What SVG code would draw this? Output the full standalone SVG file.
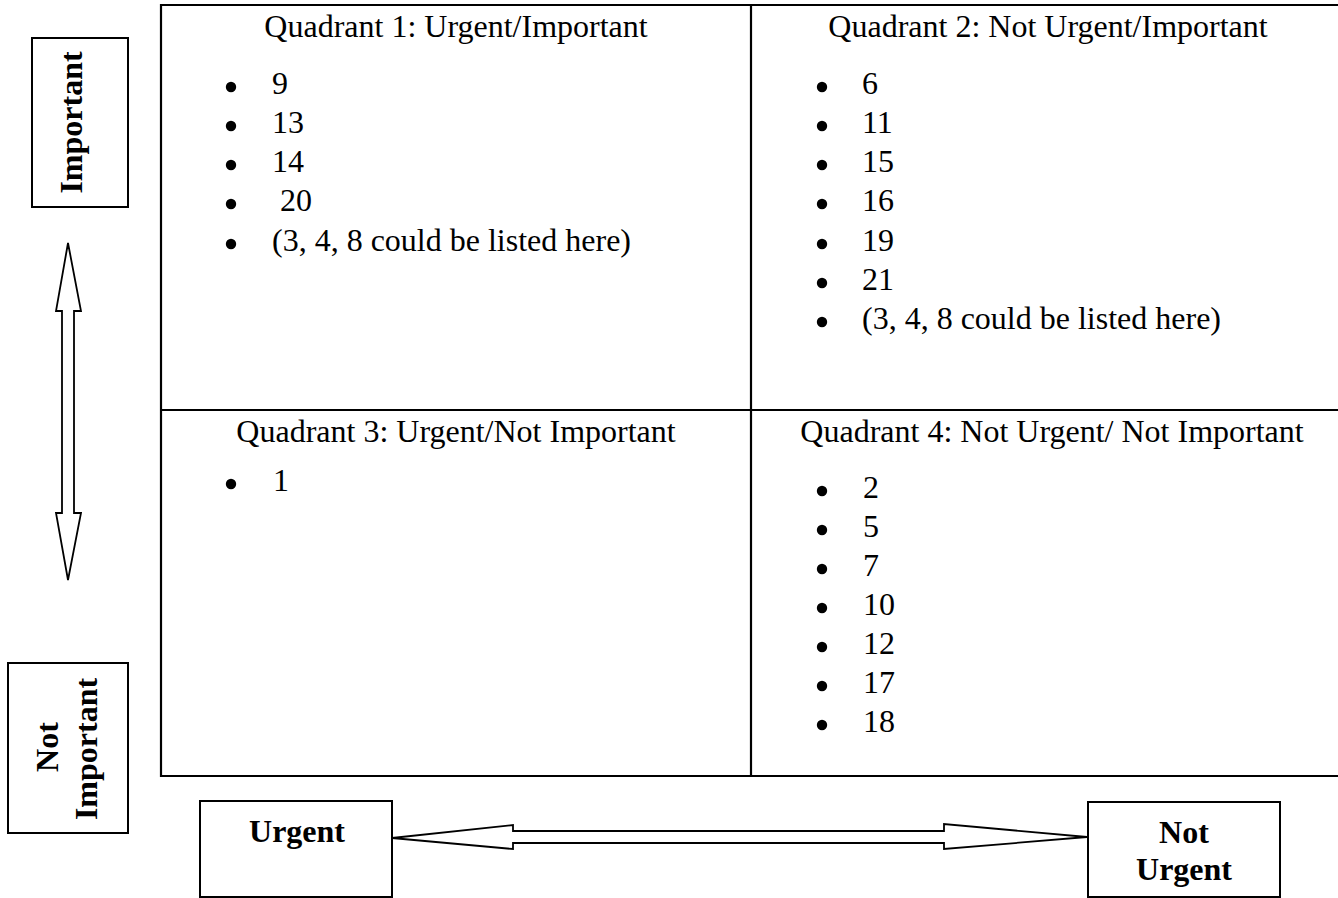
<svg xmlns="http://www.w3.org/2000/svg" width="1338" height="898" viewBox="0 0 1338 898">
<style>
text{font-family:"Liberation Serif","Times New Roman",serif;font-size:32px;fill:#000}
.b{font-weight:bold}
.c{text-anchor:middle}
.box{fill:#fff;stroke:#000;stroke-width:2}
.grid{stroke:#000;stroke-width:2.2;fill:none}
.arr{fill:#fff;stroke:#000;stroke-width:1.8;stroke-linejoin:miter}
.dot{fill:#000}
</style>
<rect width="1338" height="898" fill="#fff"/>
<g id="matrix">
<path class="grid" d="M161,5 H1340 M161,410 H1340 M161,776 H1340 M161,4 V777 M751,5 V777"/>
</g>
<g id="q1">
<text class="c" x="456" y="37">Quadrant 1: Urgent/Important</text>
<circle class="dot" cx="231" cy="87" r="5.2"/><text x="272" y="94">9</text>
<circle class="dot" cx="231" cy="126" r="5.2"/><text x="272" y="133">13</text>
<circle class="dot" cx="231" cy="165" r="5.2"/><text x="272" y="172">14</text>
<circle class="dot" cx="231" cy="204" r="5.2"/><text x="280" y="211">20</text>
<circle class="dot" cx="231" cy="244" r="5.2"/><text x="272" y="251">(3, 4, 8 could be listed here)</text>
</g>
<g id="q2">
<text class="c" x="1048" y="37">Quadrant 2: Not Urgent/Important</text>
<circle class="dot" cx="822" cy="87" r="5.2"/><text x="862" y="94">6</text>
<circle class="dot" cx="822" cy="126" r="5.2"/><text x="862" y="133">11</text>
<circle class="dot" cx="822" cy="165" r="5.2"/><text x="862" y="172">15</text>
<circle class="dot" cx="822" cy="204" r="5.2"/><text x="862" y="211">16</text>
<circle class="dot" cx="822" cy="244" r="5.2"/><text x="862" y="251">19</text>
<circle class="dot" cx="822" cy="283" r="5.2"/><text x="862" y="290">21</text>
<circle class="dot" cx="822" cy="322" r="5.2"/><text x="862" y="329">(3, 4, 8 could be listed here)</text>
</g>
<g id="q3">
<text class="c" x="456" y="442">Quadrant 3: Urgent/Not Important</text>
<circle class="dot" cx="231" cy="484" r="5.2"/><text x="273" y="491">1</text>
</g>
<g id="q4">
<text class="c" x="1052" y="442">Quadrant 4: Not Urgent/ Not Important</text>
<circle class="dot" cx="822" cy="491" r="5.2"/><text x="863" y="498">2</text>
<circle class="dot" cx="822" cy="530" r="5.2"/><text x="863" y="537">5</text>
<circle class="dot" cx="822" cy="569" r="5.2"/><text x="863" y="576">7</text>
<circle class="dot" cx="822" cy="608" r="5.2"/><text x="863" y="615">10</text>
<circle class="dot" cx="822" cy="647" r="5.2"/><text x="863" y="654">12</text>
<circle class="dot" cx="822" cy="686" r="5.2"/><text x="863" y="693">17</text>
<circle class="dot" cx="822" cy="725" r="5.2"/><text x="863" y="732">18</text>
</g>
<g id="important">
<rect class="box" x="32" y="38" width="96" height="169"/>
<text class="b c" transform="translate(82,122.5) rotate(-90)">Important</text>
</g>
<g id="not-important">
<rect class="box" x="8" y="663" width="120" height="170"/>
<text class="b c" transform="translate(58,747) rotate(-90)">Not</text>
<text class="b c" transform="translate(97,749) rotate(-90)">Important</text>
</g>
<g id="urgent">
<rect class="box" x="200" y="801" width="192" height="96"/>
<text class="b c" x="297" y="842">Urgent</text>
</g>
<g id="not-urgent">
<rect class="box" x="1088" y="802" width="192" height="95"/>
<text class="b c" x="1184" y="843">Not</text>
<text class="b c" x="1184" y="880">Urgent</text>
</g>
<g id="connectors">
<polygon class="arr" points="68,243 81,311 74,311 74,513 81,513 68,580 56,513 62,513 62,311 56,311"/>
<polygon class="arr" points="392,838 513,825 513,831 944,831 944,824 1087,837 944,849 944,843 513,843 513,849"/>
</g>
</svg>
